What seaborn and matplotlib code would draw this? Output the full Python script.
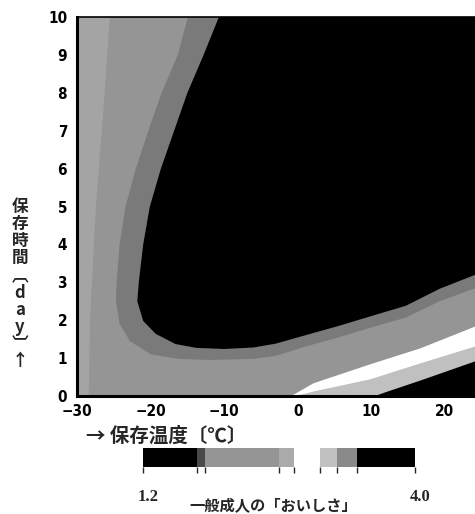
import matplotlib
matplotlib.use("Agg")
import matplotlib.pyplot as plt
from matplotlib.colors import BoundaryNorm, ListedColormap
from matplotlib.cm import ScalarMappable
import seaborn as sns

# boundary of the large black area (level ~1.76)
edge_T = [-10.1, -12.8, -15.0, -16.8, -18.6, -20.1, -21.0, -21.6, -21.8, -21.0, -19.3,
          -16.6, -13.8, -10.0, -6.0, -3.0, 1.0, 5.6, 10.2, 14.7, 19.3, 24.8, 27.0]
edge_day = [10.3, 9.0, 8.0, 7.0, 6.0, 5.0, 4.0, 3.0, 2.5, 1.98, 1.64,
            1.37, 1.27, 1.24, 1.28, 1.38, 1.6, 1.85, 2.12, 2.38, 2.83, 3.25, 3.45]

# darker rim just outside the black area
shade_T = [-14.5, -16.3, -18.5, -20.3, -22.0, -23.4, -24.2, -24.6, -24.7, -24.2, -22.8,
           -20.0, -16.2, -12.0, -6.0, -3.0, 1.0, 5.6, 10.2, 14.7, 19.3, 27.0]
shade_day = [10.3, 9.0, 8.0, 7.0, 6.0, 5.0, 4.0, 3.0, 2.5, 1.9, 1.45,
             1.1, 0.98, 0.95, 0.98, 1.06, 1.3, 1.55, 1.82, 2.07, 2.5, 3.05]

# lighter strip at the cold side
light_T = [-25.5, -26.5, -27.5, -28.3, -28.5]
light_day = [10.3, 7.5, 5.0, 2.0, -0.5]

# white band near the bottom right (about 2.75 - 3.02)
stripe_T = [-1.5, 2.1, 9.8, 16.6, 24.1, 27.0]
white_top = [-0.05, 0.35, 0.85, 1.27, 1.85, 2.05]
white_bot = [-0.05, 0.13, 0.45, 0.87, 1.32, 1.5]

# black corner at the bottom right (>3.4)
fresh_T = [9.5, 12.0, 16.6, 24.1, 27.0]
fresh_day = [-0.05, 0.12, 0.42, 0.93, 1.1]

# colour scale of the bar
scale_levels = [1.2, 1.76, 1.84, 2.6, 2.75, 3.02, 3.2, 3.4, 4.0]
scale_colors = ["#000000", "#4a4a4a", "#959595", "#aaaaaa", "#ffffff",
                "#c0c0c0", "#8a8a8a", "#000000"]

x_ticks = [-30, -20, -10, 0, 10, 20]
y_ticks = list(range(0, 11))

sns.set_theme(style="white")
plt.rcParams["font.family"] = ["DejaVu Sans"]
jp = ["Noto Sans CJK JP", "DejaVu Sans"]

fig = plt.figure(figsize=(4.75, 5.14), dpi=100)
ax = fig.add_axes([0.162, 0.2296, 0.838, 0.737])
ax.set_facecolor("#959595")

ax.fill_betweenx(light_day, -31, light_T, color="#a4a4a4", lw=0)
ax.fill(shade_T + edge_T[::-1], shade_day + edge_day[::-1], color="#7a7a7a", lw=0)
ax.fill(edge_T + [30, 30], edge_day + [11, 11], color="black", lw=0)
ax.fill_between(stripe_T, -0.5, white_bot, color="#c0c0c0", lw=0)
ax.fill_between(stripe_T, white_bot, white_top, color="white", lw=0)
ax.fill_between(fresh_T, -0.5, fresh_day, color="black", lw=0)

ax.set_xlim(-30, 24.1)
ax.set_ylim(0, 10)
ax.set_xticks(x_ticks)
ax.set_yticks(y_ticks)
ax.tick_params(direction="in", length=4, width=1.5, color="black")
ax.tick_params(axis="x", pad=6)
ax.tick_params(axis="y", pad=7)
for lab in ax.get_xticklabels() + ax.get_yticklabels():
    lab.set_fontweight("bold")
    lab.set_fontstretch("condensed")
    lab.set_fontsize(11)
    lab.set_color("black")

for side in ["left", "bottom"]:
    ax.spines[side].set_linewidth(2.2)
    ax.spines[side].set_color("black")
ax.spines["top"].set_linewidth(1.2)
ax.spines["top"].set_color("black")
ax.spines["right"].set_visible(False)

# axis titles
fig.text(166 / 475, 1 - 436 / 514, "→ 保存温度〔℃〕", family=jp, fontsize=14,
         fontweight="bold", ha="center", va="center")
fig.text(20 / 475, 1 - 284 / 514, "\n".join("保存時間︹day︺↑"), family=jp,
         fontsize=12, fontweight="bold", ha="center", va="center",
         multialignment="center", linespacing=0.94)

# colour bar
cmap = ListedColormap(sns.color_palette(scale_colors))
norm = BoundaryNorm(scale_levels, cmap.N)
cax = fig.add_axes([143 / 475, 1 - 467 / 514, 272 / 475, 19 / 514])
cb = fig.colorbar(ScalarMappable(norm=norm, cmap=cmap), cax=cax,
                  orientation="horizontal", spacing="proportional")
cb.set_ticks([])
cb.outline.set_visible(False)

fig.text(148 / 475, 1 - 497 / 514, "1.2", family=["Liberation Serif"], fontsize=12,
         fontweight="bold", ha="center", va="center")
fig.text(420 / 475, 1 - 497 / 514, "4.0", family=["Liberation Serif"], fontsize=12,
         fontweight="bold", ha="center", va="center")
fig.text(273 / 475, 1 - 506 / 514, "一般成人の「おいしさ」", family=jp, fontsize=11,
         fontweight="bold", ha="center", va="center")

fig.savefig("out.png", dpi=100)
